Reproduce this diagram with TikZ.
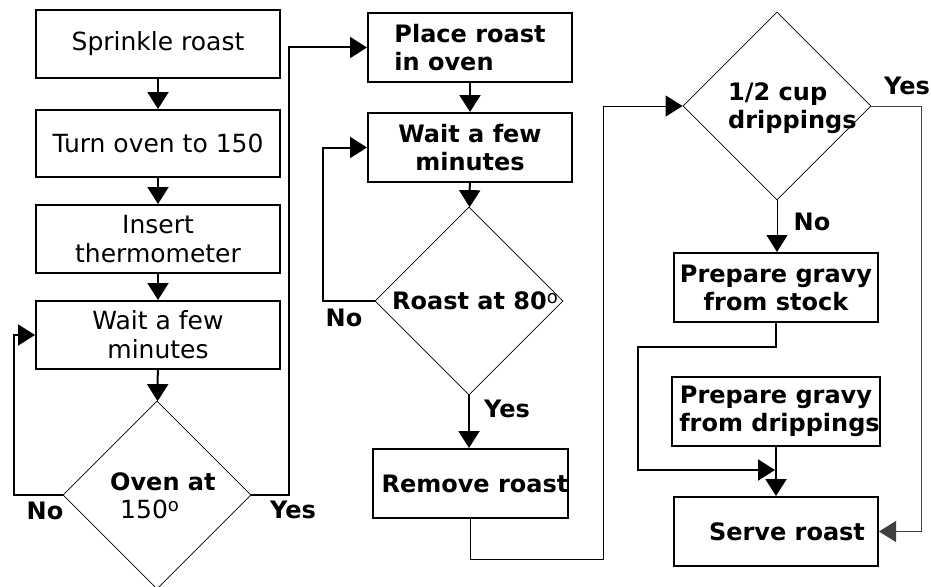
\documentclass[tikz,border=0pt]{standalone}
\usepackage{fontspec}
\setmainfont{DejaVu Sans}
\usetikzlibrary{arrows.meta,shapes.geometric}
\newcommand{\degsup}{\raisebox{0.5ex}{\mdseries\fontsize{18}{18}\selectfont o}}
\begin{document}
\begin{tikzpicture}[x=1pt,y=-1pt,
  box/.style={draw,line width=2pt,inner sep=0pt,align=center,minimum width=244pt,minimum height=68pt,font=\fontsize{25}{29}\selectfont},
  bbox/.style={box,minimum width=204pt,minimum height=69pt,font=\fontsize{24}{28}\selectfont\bfseries},
  dia/.style={draw,diamond,line width=0.8pt,inner sep=0pt,minimum width=188pt,minimum height=188pt},
  conn/.style={line width=2pt,-{Triangle[length=17pt,width=21pt]}},
  tconn/.style={line width=1pt,-{Triangle[length=17pt,width=21pt]}},
  lbl/.style={font=\fontsize{24}{28}\selectfont\bfseries,inner sep=0pt},
  dtxt/.style={font=\fontsize{24}{28}\selectfont\bfseries,align=left,inner sep=0pt}
]
\useasboundingbox[fill=white] (0,0) rectangle (931,586);

% column 1
\node[box] (b1) at (158,44) {Sprinkle roast};
\node[box,minimum height=67pt] (b2) at (158,143.5) {Turn oven to 150};
\node[box] (b3) at (158,239) {Insert\\thermometer};
\node[box] (b4) at (158,335) {Wait a few\\minutes};
\node[dia] (d1) at (157,495) {};
\node[dtxt,anchor=west] (t1) at (110,496) {Oven at\\\mdseries\fontsize{25}{28}\selectfont\hspace*{10pt}150\degsup};

% column 2
\node[bbox,align=left] (c1) at (470,47.5) {Place roast\\ in oven};
\node[bbox] (c2) at (470,147.5) {Wait a few\\minutes};
\node[dia] (d2) at (469,301) {};
\node[dtxt] (t2) at (475,301) {Roast at 80\degsup};
\node[bbox,minimum width=193pt] (c3) at (470.5,483.5) {\hspace*{9pt}Remove roast};

% column 3
\node[dia] (d3) at (777,106) {};
\node[dtxt,anchor=west] (t3) at (728,108) {1/2 cup\\drippings};
\node[bbox] (e1) at (776,287.5) {Prepare gravy\\from stock};
\node[bbox] (e2) at (776,411.5) {Prepare gravy\\\hspace*{7pt}from drippings};
\node[bbox] (e3) at (776,531.5) {\hspace*{22pt}Serve roast};

% labels
\node[lbl] (l1) at (45,511) {No};
\node[lbl] (l2) at (293,510) {Yes};
\node[lbl] (l3) at (344,318) {No};
\node[lbl] (l4) at (507,409) {Yes};
\node[lbl] (l5) at (907,86) {Yes};
\node[lbl] (l6) at (812,222) {No};

% helper coordinates
\coordinate (n1) at (14,495);
\coordinate (y1) at (289,495);
\coordinate (n2) at (323,301);
\coordinate (m1) at (603,559);
\coordinate (y3) at (921,106);
\coordinate (m3) at (638,347);
\coordinate (m4) at (775,470);

% connectors
\draw[conn] (b1) -- (b2);
\draw[conn] (b2) -- (b3);
\draw[conn] (b3) -- (b4);
\draw[conn] (b4) -- (d1);
\draw[conn] (d1.west) -- (n1) |- (b4.west);
\draw[conn] (d1.east) -- (y1) |- (c1.west);
\draw[conn] (c1) -- (c2);
\draw[conn] (c2) -- (d2);
\draw[conn] (d2.west) -- (n2) |- (c2.west);
\draw[conn] (d2.south) -- (d2.south |- c3.north);
\draw[tconn] (c3.south) |- (m1) |- (d3.west);
\draw[tconn,black!75] (d3.east) -- (y3) |- (e3.east);
\draw[tconn] (d3.south) -- (d3.south |- e1.north);
\draw[conn] (e1.south) |- (m3) |- (m4);
\draw[conn] (e2) -- (e3);
\end{tikzpicture}
\end{document}
